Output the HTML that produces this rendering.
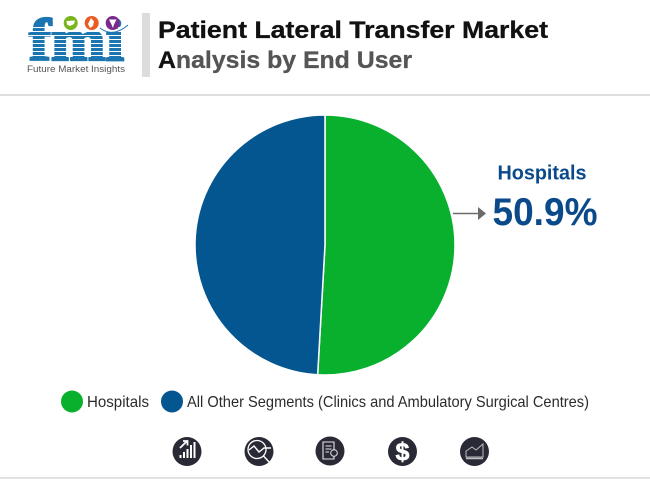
<!DOCTYPE html>
<html lang="en">
<head>
<meta charset="utf-8">
<title>Patient Lateral Transfer Market Analysis by End User</title>
<style>
html,body{margin:0;padding:0;background:#fff;width:650px;height:479px;overflow:hidden}
svg{display:block}
text{font-family:"Liberation Sans",Arial,sans-serif}
</style>
</head>
<body>
<svg id="chart" width="650" height="479" viewBox="0 0 650 479" xmlns="http://www.w3.org/2000/svg">
  <rect width="650" height="479" fill="#fff"/>

  <g>
    <text x="76.500" y="60" font-size="59" font-weight="700" text-anchor="middle" fill="#1a75b0" stroke="#1a75b0" stroke-width="2.200" textLength="95" lengthAdjust="spacingAndGlyphs" style="font-family:'Liberation Serif',serif">fmi</text>
    <g stroke="#fff" stroke-width="1">
      <line x1="25" x2="130" y1="27.500" y2="27.500"/><line x1="25" x2="130" y1="31.500" y2="31.500"/>
      <line x1="25" x2="130" y1="35.500" y2="35.500"/><line x1="25" x2="130" y1="39.500" y2="39.500"/>
      <line x1="25" x2="130" y1="43.500" y2="43.500"/><line x1="25" x2="130" y1="47.500" y2="47.500"/>
      <line x1="25" x2="130" y1="51.500" y2="51.500"/><line x1="25" x2="130" y1="55.500" y2="55.500"/>
    </g>
    <circle cx="70.700" cy="23" r="7" fill="#7ab51d"/>
    <path d="M66.500 21 L75 20.500 L74 24 L70 26 L67 24.500Z" fill="#fff"/>
    <circle cx="91.700" cy="23" r="7" fill="#ea5b24"/>
    <path d="M91 18 L94 21.500 L93 26 L90 28 L88 24Z" fill="#fff"/>
    <circle cx="112.700" cy="23" r="7" fill="#7b2a8c"/>
    <path d="M109 19.500 L116.500 19.500 L114 24.500 L113 28 L111.500 24.500Z" fill="#fff"/>
    <path d="M100 28 Q113 38 128 25" fill="none" stroke="#1a75b0" stroke-width="1"/>
    <text x="76" y="72" font-size="9.600" fill="#555" text-anchor="middle" textLength="98" lengthAdjust="spacingAndGlyphs">Future Market Insights</text>
  </g>

  <rect x="142" y="13" width="8" height="64" fill="#dcdcdc"/>
  <text x="158" y="38" font-size="24" font-weight="700" fill="#111" stroke="#111" stroke-width="0.300" textLength="390" lengthAdjust="spacingAndGlyphs">Patient Lateral Transfer Market</text>
  <text x="158" y="68" font-size="24" font-weight="700" fill="#555" stroke="#555" stroke-width="0.300" textLength="254" lengthAdjust="spacingAndGlyphs"><tspan fill="#111" stroke="#111">A</tspan>nalysis by End User</text>
  <rect x="0" y="94" width="650" height="2" fill="#dedede"/>

  <g id="pie"></g>

  <g>
    <line x1="453" y1="213.500" x2="479" y2="213.500" stroke="#6b6b6b" stroke-width="1.600"/>
    <path d="M478 207 L486 213.500 L478 220Z" fill="#6b6b6b"/>
    <text id="callout-label" x="542" y="179.500" font-size="20" font-weight="700" fill="#0a4a8a" text-anchor="middle" textLength="89" lengthAdjust="spacingAndGlyphs"></text>
    <text id="callout-value" x="545" y="225" font-size="39" font-weight="700" fill="#0a4a8a" text-anchor="middle" textLength="105" lengthAdjust="spacingAndGlyphs"></text>
  </g>

  <g id="legend"></g>

  <g>
    <g>
      <circle cx="187" cy="451.500" r="14.500" fill="#2a2a36"/>
      <path d="M180 448 L187 441 M183 441 H187.500 V445.500" stroke="#fff" stroke-width="1.800" fill="none"/>
      <path d="M180.500 458 V455 M184 458 V452 M187.500 458 V449 M191 458 V445 M194.500 458 V442" stroke="#fff" stroke-width="2" fill="none"/>
    </g>
    <g>
      <circle cx="259" cy="451.500" r="14.500" fill="#2a2a36"/>
      <circle cx="257" cy="449.500" r="9" fill="none" stroke="#fff" stroke-width="1.300"/>
      <path d="M249 450 L254 446 L259 452 L264 448 H271 M263.500 456 L270 463" stroke="#fff" stroke-width="1.400" fill="none"/>
    </g>
    <g>
      <circle cx="330" cy="451" r="14.500" fill="#2a2a36"/>
      <path d="M323 442 H334 V459 H323Z M325.500 446 H331.500 M325.500 449 H331.500 M325.500 452 H329" stroke="#e6e6e6" stroke-width="1.100" fill="none"/>
      <circle cx="334" cy="453" r="3.300" fill="#2a2a36" stroke="#e6e6e6" stroke-width="1"/>
    </g>
    <g>
      <circle cx="402.500" cy="451.500" r="14.500" fill="#2a2a36"/>
      <text x="402.500" y="460" font-size="25" font-weight="700" fill="#fff" stroke="#fff" stroke-width="0.600" text-anchor="middle">$</text>
    </g>
    <g>
      <circle cx="474.500" cy="451.500" r="14.500" fill="#2a2a36"/>
      <path d="M466 457 V451 L472 447 L476 450 L483 444 V457Z" fill="none" stroke="#bdbdbd" stroke-width="1"/>
      <path d="M466 458.500 H483" stroke="#bdbdbd" stroke-width="1.600"/>
    </g>
  </g>
  <rect x="0" y="477" width="650" height="2" fill="#e2e2e2"/>
</svg>
<script>
var categories = ["Hospitals", "All Other Segments (Clinics and Ambulatory Surgical Centres)"];
var seriesValues = [50.9, 49.1];
var sliceColors = ["#08b02e", "#03568f"];

var NS = "http://www.w3.org/2000/svg";
var cx = 325, cy = 245, r = 130;

function angleScale(v, total) {
  return v / total * 2 * Math.PI;
}
function pointAt(a) {
  return [cx + r * Math.sin(a), cy - r * Math.cos(a)];
}

var pie = document.getElementById("pie");
var total = seriesValues.reduce(function (s, v) { return s + v; }, 0);
var start = 0;
seriesValues.forEach(function (v, i) {
  var sweep = angleScale(v, total);
  var end = start + sweep;
  var p0 = pointAt(start), p1 = pointAt(end);
  var d = "M" + cx + " " + cy + " L" + p0[0] + " " + p0[1] +
    " A" + r + " " + r + " 0 " + (sweep > Math.PI ? 1 : 0) + " 1 " + p1[0] + " " + p1[1] + "Z";
  var slice = document.createElementNS(NS, "path");
  slice.setAttribute("d", d);
  slice.setAttribute("fill", sliceColors[i]);
  slice.setAttribute("stroke", "#fff");
  slice.setAttribute("stroke-width", "1.500");
  
  
  pie.appendChild(slice);
  start = end;
});

document.getElementById("callout-label").textContent = categories[0];
document.getElementById("callout-value").textContent = seriesValues[0].toFixed(1) + "%";

var legendLayout = [
  { dot: 72, text: 87, width: 62 },
  { dot: 172, text: 187, width: 402 }
];
var legend = document.getElementById("legend");
categories.forEach(function (c, i) {
  var dot = document.createElementNS(NS, "circle");
  dot.setAttribute("cx", legendLayout[i].dot);
  dot.setAttribute("cy", 401.5);
  dot.setAttribute("r", 11);
  dot.setAttribute("fill", sliceColors[i]);
  
  
  legend.appendChild(dot);

  var label = document.createElementNS(NS, "text");
  label.setAttribute("x", legendLayout[i].text);
  label.setAttribute("y", 407);
  label.setAttribute("font-size", "16");
  label.setAttribute("fill", "#2b2b2b");
  label.setAttribute("textLength", legendLayout[i].width);
  label.setAttribute("lengthAdjust", "spacingAndGlyphs");
  
  
  label.textContent = c;
  legend.appendChild(label);
});
</script>
</body>
</html>
